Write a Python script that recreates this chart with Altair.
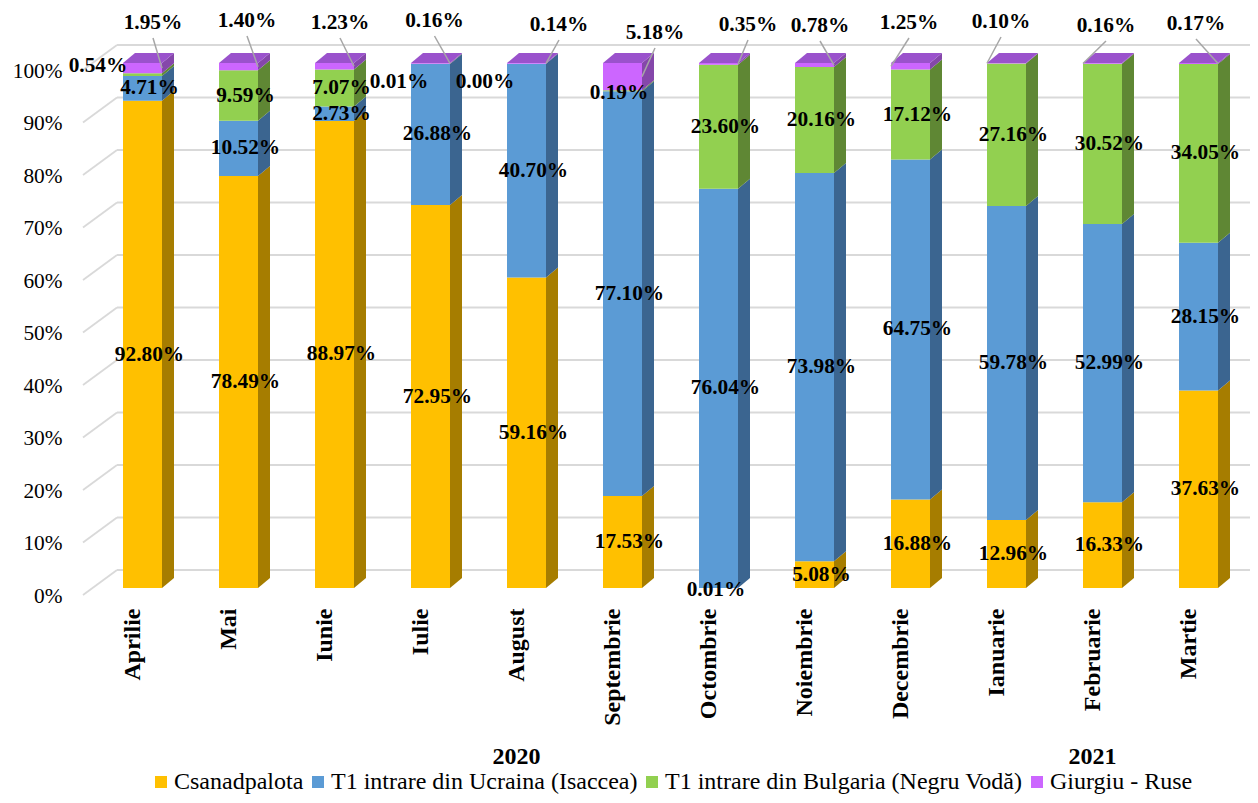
import json
import altair as alt
import pandas as pd

# ---------------- data ----------------
months = ["Aprilie", "Mai", "Iunie", "Iulie", "August", "Septembrie",
          "Octombrie", "Noiembrie", "Decembrie", "Ianuarie", "Februarie", "Martie"]
year_names = ["2020", "2021"]
year_first = [0, 9]
year_last = [8, 11]
series = ["Csanadpalota", "T1 intrare din Ucraina (Isaccea)",
          "T1 intrare din Bulgaria (Negru Vodă)", "Giurgiu - Ruse"]
csanad = [92.80, 78.49, 88.97, 72.95, 59.16, 17.53, 0.01, 5.08, 16.88, 12.96, 16.33, 37.63]
ucraina = [4.71, 10.52, 2.73, 26.88, 40.70, 77.10, 76.04, 73.98, 64.75, 59.78, 52.99, 28.15]
bulgaria = [0.54, 9.59, 7.07, 0.01, 0.00, 0.19, 23.60, 20.16, 17.12, 27.16, 30.52, 34.05]
giurgiu = [1.95, 1.40, 1.23, 0.16, 0.14, 5.18, 0.35, 0.78, 1.25, 0.10, 0.16, 0.17]
values = [csanad, ucraina, bulgaria, giurgiu]

# ---------------- style ----------------
FRONT = ["#FFC000", "#5B9BD5", "#92D050", "#CC66FF"]
SIDE = ["#A67D00", "#3B6590", "#5F8734", "#8547AA"]
TOP = "#9A52CC"
GRID = "#D9D9D9"
LEADER = "#A6A6A6"
FONT = "Liberation Serif"

W, H = 1160, 525
STEP = 96.0                 # px per category
PXY = H / 100.0             # px per percent
X0 = -57.5 / STEP           # domain start (plot left edge relative to first bar)
X1 = X0 + W / STEP
HALF = 19.5 / STEP          # half width of bar front face
DX = 12 / STEP              # 3D depth (x)
DY = 10 / PXY               # 3D depth (y)
LBL_SHIFT = 7 / STEP        # labels sit at the centre of the 3D block

# label nudges (px: dx right, dy down) for crowded labels
nudge = {(0, 2): (-51.5, -9), (3, 2): (-38.5, 18), (4, 2): (-48.5, 18),
         (5, 2): (-10.5, 2), (6, 0): (-9.5, 2), (0, 0): (0, 11)}
# Giurgiu labels above the bars: dx from bar centre, height above 100% (px)
g_dx = [10.5, 8.5, 5.5, 4, 32.5, 32.5, 29.5, 5.5, -1.5, -5.5, 3.5, -2.5]
g_h = [40, 42, 40, 42, 38, 30, 38, 37, 40, 41, 37, 39]
g_side = [1, 1, 1, 1, 1, 1, 1, 1, -1, -1, -1, 1]

# ---------------- build tables ----------------
bars, sides, tops, labels, glabels, leaders = [], [], [], [], [], []
for i, m in enumerate(months):
    base = 0.0
    for k, s in enumerate(series):
        v = values[k][i]
        y0, y1 = base, base + v
        base = y1
        bars.append(dict(series=s, x0=i - HALF, x1=i + HALF, y0=y0, y1=y1))
        sid = f"{i}-{k}"
        sides.append(dict(seg=sid, x=i + HALF, lo=y0, hi=y1, c=SIDE[k]))
        sides.append(dict(seg=sid, x=i + HALF + DX, lo=y0 + DY, hi=y1 + DY, c=SIDE[k]))
        txt = f"{v:.2f}%"
        if k < 3:
            ndx, ndy = nudge.get((i, k), (0, 0))
            labels.append(dict(x=i + LBL_SHIFT + ndx / STEP,
                               y=(y0 + y1) / 2 - ndy / PXY, t=txt))
        else:
            lx = i + g_dx[i] / STEP
            ly = 100 + g_h[i] / PXY
            glabels.append(dict(x=lx, y=ly, t=txt))
            leaders.append(dict(x=lx, y=ly - 15 / PXY,
                                x2=i + g_side[i] * HALF, y2=(y0 + y1) / 2))
    t = base
    tops += [dict(bar=i, x=i - HALF, lo=t, hi=t),
             dict(bar=i, x=i - HALF + DX, lo=t, hi=t + DY),
             dict(bar=i, x=i + HALF, lo=t, hi=t + DY),
             dict(bar=i, x=i + HALF + DX, lo=t + DY, hi=t + DY)]

ticks = list(range(0, 101, 10))
grid_back = pd.DataFrame(dict(x=[(117 - 142.5) / STEP] * 11, x2=[(1255 - 142.5) / STEP] * 11,
                              y=[v + 18 / PXY for v in ticks]))
grid_diag = pd.DataFrame(dict(x=[(83 - 142.5) / STEP] * 11, x2=[(117 - 142.5) / STEP] * 11,
                              y=[v - 7 / PXY for v in ticks], y2=[v + 18 / PXY for v in ticks]))
years = pd.DataFrame(dict(t=year_names,
                          x=[(a + b) / 2 - 10 / STEP for a, b in zip(year_first, year_last)]))

xs = alt.Scale(domain=[X0, X1], nice=False, zero=False)
ys = alt.Scale(domain=[0, 100], nice=False, zero=False)

month_expr = json.dumps(months) + "[datum.value]"
xaxis = alt.Axis(values=list(range(len(months))), labelExpr=month_expr,
                 labelAngle=270, labelFont=FONT, labelFontSize=24,
                 labelFontWeight="bold", labelColor="black", labelPadding=20,
                 labelOffset=-10, ticks=False, tickSize=0, domain=False,
                 grid=False, labelOverlap=False, labelFlush=False, title=None)
yaxis = alt.Axis(values=ticks, labelExpr="datum.value + '%'", labelFont=FONT,
                 labelFontSize=21.33, labelColor="black", labelPadding=23,
                 labelOffset=8, ticks=False, tickSize=0, domain=False,
                 grid=False, labelOverlap=False, labelFlush=False, title=None)


def X(f):
    return alt.X(f, scale=xs, axis=xaxis, title=None)


def Y(f):
    return alt.Y(f, scale=ys, axis=yaxis, title=None)


gb = alt.Chart(grid_back).mark_rule(color=GRID, strokeWidth=1.8).encode(
    x=X("x:Q"), x2="x2:Q", y=Y("y:Q"))
gd = alt.Chart(grid_diag).mark_rule(color=GRID, strokeWidth=1.8).encode(
    x=X("x:Q"), x2="x2:Q", y=Y("y:Q"), y2="y2:Q")

front = alt.Chart(pd.DataFrame(bars)).mark_rect().encode(
    x=X("x0:Q"), x2="x1:Q", y=Y("y0:Q"), y2="y1:Q",
    color=alt.Color("series:N", scale=alt.Scale(domain=series, range=FRONT),
                    legend=alt.Legend(title=None, orient="none", legendX=64, legendY=707,
                                      direction="horizontal", columns=4,
                                      symbolType="square", symbolSize=144,
                                      symbolStrokeWidth=0, labelFont=FONT,
                                      labelFontSize=24, labelColor="black",
                                      columnPadding=2, labelOffset=1,
                                      labelLimit=1000, padding=0)),
)

side = alt.Chart(pd.DataFrame(sides)).mark_area(orient="vertical").encode(
    x=X("x:Q"), y=Y("lo:Q"), y2="hi:Q",
    detail="seg:N", color=alt.Color("c:N", scale=None))

top = alt.Chart(pd.DataFrame(tops)).mark_area(orient="vertical", color=TOP).encode(
    x=X("x:Q"), y=Y("lo:Q"), y2="hi:Q", detail="bar:N")

lab = alt.Chart(pd.DataFrame(labels)).mark_text(
    font=FONT, fontSize=21.33, fontWeight="bold", color="black",
    align="center", baseline="middle").encode(
    x=X("x:Q"), y=Y("y:Q"), text="t:N")

lead = alt.Chart(pd.DataFrame(leaders)).mark_rule(color=LEADER, strokeWidth=1.5).encode(
    x=X("x:Q"), x2="x2:Q", y=Y("y:Q"), y2="y2:Q")

glab = alt.Chart(pd.DataFrame(glabels)).mark_text(
    font=FONT, fontSize=21.33, fontWeight="bold", color="black",
    align="center", baseline="middle").encode(
    x=X("x:Q"), y=Y("y:Q"), text="t:N")

yr = alt.Chart(years).mark_text(
    font=FONT, fontSize=24, fontWeight="bold", color="black",
    align="center", baseline="middle").encode(
    x=X("x:Q"), y=alt.value(694), text="t:N")

chart = alt.layer(gb, gd, front, side, top, lab, lead, glab, yr).properties(
    width=W, height=H,
    autosize=alt.AutoSizeParams(type="none"),
    padding={"left": 77, "top": 55, "right": 5, "bottom": 207},
).configure_view(stroke=None)

chart.save("out.html", embed_options={"renderer": "svg", "actions": False})
